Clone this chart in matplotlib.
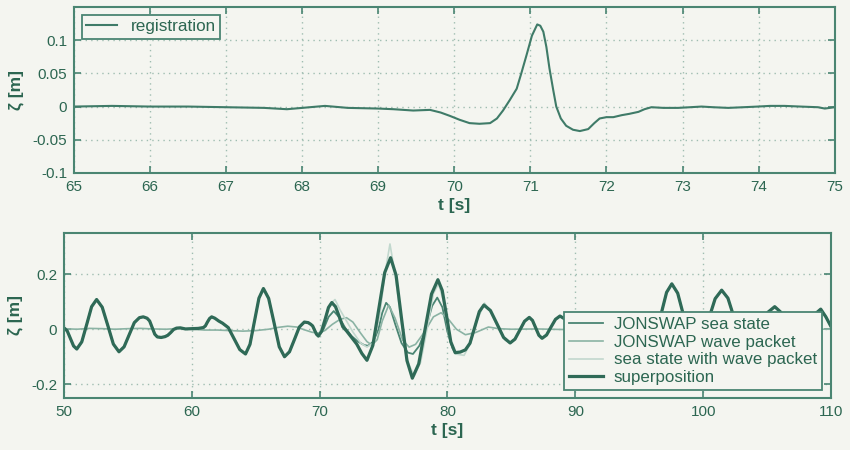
import numpy as np
import matplotlib
matplotlib.use("Agg")
import matplotlib.pyplot as plt

# ---- top panel: registered free-surface elevation ----
reg_t = [65.0, 65.5, 66.0, 66.5, 67.0, 67.5, 67.8, 68.0, 68.3, 68.6, 69.0, 69.2,
         69.46, 69.68, 69.82, 69.94, 70.07, 70.2, 70.33, 70.47, 70.56, 70.64, 70.73,
         70.82, 70.88, 70.95, 71.02, 71.09, 71.13, 71.17, 71.21, 71.25, 71.3, 71.34,
         71.4, 71.47, 71.56, 71.65, 71.76, 71.84, 71.91, 72.0, 72.09, 72.2, 72.3,
         72.42, 72.5, 72.59, 72.75, 72.94, 73.1, 73.25, 73.4, 73.6, 73.8, 73.99,
         74.15, 74.34, 74.55, 74.78, 74.87, 75.0]
reg_z = [0.0, 0.001, 0.0, 0.0, -0.001, -0.002, -0.004, -0.002, 0.001, -0.002, -0.003, -0.004,
         -0.006, -0.005, -0.009, -0.014, -0.020, -0.025, -0.026, -0.025, -0.018, -0.006, 0.010,
         0.027, 0.050, 0.078, 0.107, 0.124, 0.122, 0.113, 0.090, 0.058, 0.025, 0.0,
         -0.018, -0.029, -0.035, -0.037, -0.034, -0.025, -0.018, -0.016, -0.016, -0.013, -0.011,
         -0.008, -0.004, -0.001, -0.002, -0.002, -0.001, 0.0, -0.001, -0.002, -0.001, 0.0,
         0.001, 0.001, 0.0, -0.001, -0.003, -0.001]

# ---- bottom panel: (t, zeta) pairs ----
# common part before the packet arrives (all sea-state curves coincide)
lead = [(50.0, 0.005), (50.25, -0.006), (50.5, -0.034), (50.75, -0.061), (51.0, -0.072),
        (51.39, -0.046), (51.78, 0.018), (52.16, 0.082), (52.55, 0.108),
        (52.99, 0.080), (53.43, 0.013), (53.86, -0.054), (54.3, -0.082),
        (54.7, -0.064), (55.1, -0.020), (55.5, 0.024), (55.9, 0.042), (56.2, 0.045), (56.5, 0.040),
        (56.7, 0.030), (56.9, 0.006), (57.1, -0.018), (57.3, -0.028), (57.6, -0.030), (57.9, -0.027),
        (58.12, -0.022), (58.35, -0.012), (58.57, -0.001), (58.8, 0.004), (59.1, 0.005),
        (59.5, 0.001), (60.0, 0.002), (60.5, 0.003), (60.9, 0.006),
        (61.06, 0.012), (61.22, 0.026), (61.39, 0.039), (61.55, 0.045), (61.8, 0.040),
        (62.1, 0.030), (62.4, 0.022),
        (62.85, 0.006), (63.3, -0.034), (63.75, -0.074), (64.2, -0.090),
        (64.55, -0.055), (64.9, 0.029), (65.25, 0.113), (65.6, 0.148),
        (66.01, 0.112), (66.43, 0.024), (66.84, -0.064), (67.25, -0.100),
        (67.64, -0.082), (68.03, -0.037), (68.41, 0.008), (68.8, 0.026), (69.1, 0.024), (69.3, 0.018),
        (69.45, 0.012), (69.6, -0.003), (69.75, -0.018), (69.9, -0.025)]

sup_mid = [(70.16, -0.007), (70.43, 0.036), (70.69, 0.079), (70.95, 0.097),
           (71.24, 0.082), (71.53, 0.046), (71.81, 0.009), (72.1, -0.006), (72.5, -0.030),
           (72.9, -0.054), (73.3, -0.088), (73.7, -0.113),
           (74.16, -0.059), (74.63, 0.074), (75.09, 0.206), (75.55, 0.260),
           (75.98, 0.196), (76.4, 0.041), (76.83, -0.114), (77.25, -0.178),
           (77.75, -0.126), (78.25, 0.001), (78.75, 0.128), (79.25, 0.180),
           (79.59, 0.141), (79.93, 0.048), (80.26, -0.046), (80.6, -0.085), (81.0, -0.083),
           (81.4, -0.075), (81.76, -0.051), (82.13, 0.007), (82.49, 0.064), (82.85, 0.088),
           (83.36, 0.068), (83.88, 0.019), (84.39, -0.030)]

sea_mid = [(70.3, 0.0), (70.7, 0.045), (71.1, 0.066), (71.5, 0.045), (72.0, 0.005),
           (72.5, -0.025), (73.0, -0.045), (73.5, -0.058), (73.8, -0.060), (74.2, -0.045),
           (74.6, 0.0), (74.9, 0.060), (75.2, 0.096), (75.5, 0.080), (75.9, 0.020),
           (76.4, -0.050), (76.9, -0.085), (77.3, -0.090), (77.8, -0.060), (78.3, 0.0),
           (78.8, 0.085), (79.2, 0.115), (79.6, 0.080), (80.0, -0.010), (80.4, -0.070),
           (80.6, -0.085), (81.0, -0.083), (81.4, -0.075), (81.76, -0.051), (82.13, 0.007),
           (82.49, 0.064), (82.85, 0.088), (83.36, 0.068), (83.88, 0.019), (84.39, -0.030)]

mix_mid = [(70.4, 0.040), (70.8, 0.090), (71.2, 0.108), (71.6, 0.070), (72.1, 0.030),
           (72.6, -0.010), (73.2, -0.050), (73.7, -0.065), (74.2, -0.050), (74.7, 0.050),
           (75.1, 0.200), (75.5, 0.310), (75.9, 0.200), (76.4, 0.020), (76.9, -0.120),
           (77.4, -0.170), (77.9, -0.120), (78.4, 0.000), (78.9, 0.130), (79.3, 0.165),
           (79.7, 0.100), (80.1, -0.020), (80.6, -0.090), (81.3, -0.095), (81.8, -0.050),
           (82.3, 0.030), (82.9, 0.095), (83.4, 0.060), (84.0, 0.000), (84.5, -0.040)]

# common part after the packet has passed
tail = [(84.9, -0.050),
        (85.28, -0.036), (85.65, -0.004), (86.03, 0.029), (86.4, 0.043),
        (86.65, 0.032), (86.9, 0.005), (87.15, -0.022), (87.4, -0.033),
        (87.75, -0.021), (88.1, 0.008), (88.45, 0.036), (88.8, 0.048),
        (89.18, 0.037), (89.55, 0.009), (89.93, -0.019), (90.3, -0.030),
        (90.68, -0.021), (91.05, 0.0), (91.43, 0.021), (91.8, 0.030),
        (92.15, 0.020), (92.5, -0.005), (92.85, -0.030), (93.2, -0.040),
        (93.55, -0.031), (93.9, -0.010), (94.25, 0.011), (94.6, 0.020),
        (94.93, 0.010), (95.25, -0.015), (95.58, -0.040), (95.9, -0.050),
        (96.31, -0.019), (96.73, 0.058), (97.14, 0.134), (97.55, 0.165),
        (98.01, 0.131), (98.48, 0.048), (98.94, -0.036), (99.4, -0.070),
        (99.91, -0.039), (100.43, 0.036), (100.94, 0.111), (101.45, 0.142),
        (101.94, 0.113), (102.43, 0.041), (102.91, -0.030), (103.4, -0.060),
        (103.95, -0.039), (104.5, 0.011), (105.05, 0.061), (105.6, 0.082),
        (106.05, 0.063), (106.5, 0.016), (106.95, -0.031), (107.4, -0.050),
        (107.85, -0.032), (108.3, 0.012), (108.75, 0.055), (109.2, 0.073),
        (109.6, 0.045), (110.0, 0.010)]

packet = [(50.0, 0.002), (51.0, 0.0), (52.0, 0.003), (53.0, 0.002), (54.0, 0.0), (55.0, 0.002),
          (56.0, 0.003), (57.0, 0.001), (58.0, 0.0), (59.0, 0.003), (60.0, 0.0), (61.0, -0.003),
          (62.0, -0.003), (63.0, -0.005), (64.0, -0.007), (65.0, -0.005), (66.0, 0.0),
          (66.8, 0.007), (67.5, 0.011), (68.2, 0.008), (68.8, -0.002), (69.4, -0.011),
          (69.9, -0.014), (70.4, -0.005), (71.0, 0.018), (71.6, 0.036), (72.1, 0.042),
          (72.6, 0.026), (73.2, -0.014), (73.7, -0.045), (74.1, -0.058), (74.5, -0.038),
          (74.9, 0.030), (75.4, 0.088), (75.9, 0.040), (76.5, -0.040), (77.0, -0.065),
          (77.5, -0.055), (78.2, -0.010), (78.9, 0.045), (79.5, 0.060), (80.1, 0.035),
          (80.7, 0.0), (81.4, -0.020), (82.2, -0.012), (83.2, 0.008), (84.0, 0.002),
          (85.0, 0.0), (87.0, 0.001), (89.0, -0.001), (91.0, 0.0), (94.0, 0.001),
          (97.0, 0.0), (100.0, -0.001), (104.0, 0.0), (107.0, 0.001), (110.0, 0.0)]

labels = ["JONSWAP sea state", "JONSWAP wave packet",
          "sea state with wave packet", "superposition"]

bg = "#f4f5f0"
ink = "#2c6651"
spine_c = "#4a8572"
grid_c = "#9fbdb1"

plt.rcParams["font.family"] = ["Liberation Sans", "DejaVu Sans"]

fig = plt.figure(figsize=(8.5, 4.5), dpi=100, facecolor=bg)
ax1 = fig.add_axes([0.087, 0.616, 0.895, 0.368])
ax2 = fig.add_axes([0.0753, 0.1156, 0.9023, 0.3667])


def style(ax):
    ax.set_facecolor(bg)
    for s in ax.spines.values():
        s.set_color(spine_c)
        s.set_linewidth(1.5)
    ax.tick_params(direction="in", length=5, width=1.2, color=spine_c,
                   top=True, right=True, labelsize=11, labelcolor=ink, pad=5)
    ax.grid(True, color=grid_c, linestyle=(0, (1, 3)), linewidth=1.0)
    ax.set_axisbelow(True)


# top
style(ax1)
ax1.plot(reg_t, reg_z, color="#3f7b68", lw=1.5, label="registration")
ax1.set_xlim(65, 75)
ax1.set_ylim(-0.1, 0.15)
ax1.set_xticks(np.arange(65, 76, 1))
ax1.set_yticks([-0.1, -0.05, 0, 0.05, 0.1])
ax1.set_yticklabels(["-0.1", "-0.05", "0", "0.05", "0.1"])
ax1.set_xlabel("t [s]", fontsize=12.5, fontweight="bold", color=ink, labelpad=3)
ax1.set_ylabel("ζ [m]", fontsize=12.5, fontweight="bold", color=ink, labelpad=6)
leg1 = ax1.legend(loc="upper left", bbox_to_anchor=(0.0105, 0.952), borderaxespad=0,
                  fancybox=False, framealpha=1, facecolor=bg, edgecolor=spine_c,
                  fontsize=12.3, handlelength=1.8, borderpad=0.25)
leg1.get_frame().set_linewidth(1.3)
for txt in leg1.get_texts():
    txt.set_color(ink)

# bottom
style(ax2)
sup = np.array(lead + sup_mid + tail)
sea = np.array(lead + sea_mid + tail)
mix = np.array(lead + mix_mid + tail)
pk = np.array(packet)
ax2.plot(sea[:, 0], sea[:, 1], color="#4a8573", lw=1.3, label=labels[0])
ax2.plot(pk[:, 0], pk[:, 1], color="#8bb3a4", lw=1.2, label=labels[1])
ax2.plot(mix[:, 0], mix[:, 1], color="#c2d8ce", lw=1.2, label=labels[2])
ax2.plot(sup[:, 0], sup[:, 1], color="#2f6a57", lw=2.3, label=labels[3])
ax2.set_xlim(50, 110)
ax2.set_ylim(-0.25, 0.35)
ax2.set_xticks(np.arange(50, 111, 10))
ax2.set_yticks([-0.2, 0, 0.2])
ax2.set_yticklabels(["-0.2", "0", "0.2"])
ax2.set_xlabel("t [s]", fontsize=12.5, fontweight="bold", color=ink, labelpad=3)
ax2.set_ylabel("ζ [m]", fontsize=12.5, fontweight="bold", color=ink, labelpad=6)
leg2 = ax2.legend(loc="lower right", bbox_to_anchor=(0.988, 0.048), borderaxespad=0,
                  fancybox=False, framealpha=1, facecolor=bg, edgecolor=spine_c,
                  fontsize=12.2, handlelength=2.0, borderpad=0.3, labelspacing=0.15,
                  handletextpad=0.6)
leg2.get_frame().set_linewidth(1.3)
for txt in leg2.get_texts():
    txt.set_color(ink)

fig.savefig("out.png", dpi=100, facecolor=bg)
